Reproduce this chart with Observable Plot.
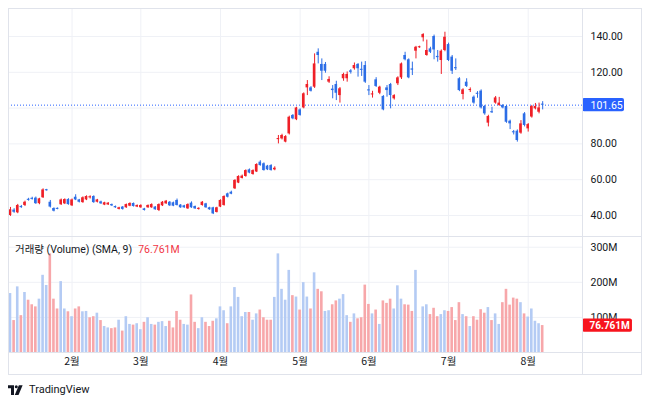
<!DOCTYPE html>
<html><head><meta charset="utf-8">
<script src="https://cdn.jsdelivr.net/npm/d3@7"></script>
<script src="https://cdn.jsdelivr.net/npm/@observablehq/plot@0.6"></script>
<style>
body{margin:0;background:#fff;}
#wrap{position:relative;width:650px;height:404px;overflow:hidden;font-family:Roboto,"Noto Sans CJK KR",sans-serif;color:#131722;}
.ln{position:absolute;background:#e0e3eb;}
.pl{position:absolute;left:0;}
#legend{position:absolute;left:15px;top:243px;font-size:10.5px;line-height:13px;white-space:nowrap;font-family:Roboto,"Noto Sans CJK KR",sans-serif;color:#131722;}
#legend span{color:#f23645;margin-left:6px;}
#logo{position:absolute;left:8px;top:384px;display:flex;align-items:center;gap:6px;font-size:11px;line-height:12px;color:#131722;font-family:Roboto,sans-serif;}
</style></head>
<body><div id="wrap">
<div id="price" class="pl" style="top:0"></div>
<div id="vol" class="pl" style="top:237px"></div>
<div class="ln" style="left:8px;top:8px;width:634px;height:1px"></div>
<div class="ln" style="left:8px;top:374px;width:634px;height:1px"></div>
<div class="ln" style="left:8px;top:8px;width:1px;height:367px"></div>
<div class="ln" style="left:641px;top:8px;width:1px;height:367px"></div>
<div class="ln" style="left:8px;top:236px;width:634px;height:1px"></div>
<div class="ln" style="left:8px;top:352px;width:634px;height:1px"></div>
<div class="ln" style="left:582px;top:8px;width:1px;height:367px"></div>
<div id="legend"></div>
<div id="logo"><svg width="15" height="10" viewBox="0 0 20 13"><path d="M0 0H8V13H4V4H0Z" fill="#131722"/><circle cx="11" cy="2" r="2" fill="#131722"/><path d="M14.5 0H19.5L14 13H9Z" fill="#131722"/></svg><span>TradingView</span></div>
</div>
<script>
// OHLC (daily candles)
const O = [
40.0,43.0,41.5,45.0,45.6,49.0,49.6,49.7,46.6,49.9,
54.2,47.4,43.9,43.9,46.0,46.5,48.9,45.4,50.2,48.7,
47.2,48.7,50.0,50.6,47.4,47.6,45.8,45.9,46.1,45.0,
43.4,44.7,44.3,45.2,46.7,44.7,44.3,43.7,44.3,44.3,
44.7,42.8,45.4,46.5,47.4,47.1,48.4,45.8,45.4,43.7,
46.9,45.0,43.4,45.6,46.5,44.3,44.3,41.7,44.7,45.6,
52.1,53.0,54.9,58.1,60.7,61.8,65.5,62.9,64.3,69.8,
68.9,67.6,67.9,65.5,82.5,82.8,81.0,85.6,95.9,93.5,
99.0,100.1,111.3,111.3,111.7,131.2,124.4,124.4,114.5,110.6,
113.2,107.0,116.4,116.4,120.8,122.0,124.4,121.6,123.8,110.2,
107.4,115.8,108.3,106.5,111.3,113.2,105.2,113.6,116.9,129.4,
127.0,121.9,131.8,133.8,139.3,129.4,133.1,140.0,128.9,126.6,
132.2,135.5,128.5,122.6,116.4,107.6,114.5,109.8,106.1,108.2,
109.5,100.9,91.6,97.9,102.8,101.5,101.5,100.9,92.7,86.8,
87.1,86.0,96.8,88.4,95.0,99.6,97.7,102.2];
const H = [
44.5,43.8,46.2,45.6,48.0,49.6,50.2,50.3,49.6,54.9,
54.6,48.4,44.3,44.2,49.2,49.3,49.4,49.2,51.6,49.0,
50.4,51.0,51.0,51.0,49.0,48.0,47.4,47.2,46.4,45.3,
44.6,45.0,46.4,47.1,47.0,45.9,46.0,44.0,45.9,46.5,
45.0,46.5,47.8,48.4,47.8,47.5,49.2,46.1,45.7,46.5,
47.6,45.3,44.3,47.8,46.8,44.6,44.6,44.6,48.8,51.0,
52.5,53.6,60.0,62.2,62.6,65.5,66.0,65.5,68.9,70.6,
69.4,68.0,68.4,67.2,84.7,85.4,84.6,95.5,96.4,100.5,
99.6,108.5,115.4,112.0,130.3,133.1,127.5,125.5,117.5,112.6,
115.0,111.5,119.5,120.2,121.5,125.2,124.9,125.7,126.0,112.6,
109.4,117.0,112.2,107.0,112.6,113.8,107.5,117.5,125.2,131.2,
127.5,125.7,134.5,134.6,141.6,138.0,134.0,140.8,132.2,132.5,
142.4,136.3,129.4,127.5,117.0,110.8,116.4,111.3,106.8,109.2,
110.2,101.5,96.0,100.5,106.5,106.0,102.0,101.5,93.3,87.5,
87.8,93.0,97.5,91.4,101.5,102.6,102.8,103.6];
const L = [
39.5,41.2,41.0,44.0,45.0,48.0,48.6,46.2,46.0,49.5,
53.6,44.2,42.0,43.2,45.6,46.1,45.7,45.0,48.3,47.0,
46.8,48.3,49.2,46.8,47.0,46.2,45.5,45.6,45.0,44.0,
43.1,43.0,44.0,44.9,44.7,44.4,44.0,42.5,44.0,44.0,
42.9,42.2,45.0,46.2,45.0,44.9,45.3,44.0,44.0,43.4,
44.0,43.4,43.0,45.2,44.0,42.9,40.5,41.4,44.4,45.2,
49.8,51.6,54.5,57.8,60.4,61.4,63.3,62.5,64.0,67.5,
64.8,65.1,64.8,65.0,80.0,82.2,80.6,85.0,93.5,93.0,
95.5,99.6,107.0,109.0,111.0,124.7,115.4,119.5,113.8,105.2,
104.2,102.8,115.0,114.5,119.0,121.2,117.3,117.7,113.8,107.0,
105.6,111.5,107.5,98.5,106.1,99.6,104.5,112.6,116.0,126.4,
116.4,118.2,127.5,133.4,137.0,129.0,130.5,127.0,125.7,118.8,
131.5,126.0,118.8,121.0,109.2,104.6,111.5,108.7,102.2,105.5,
99.5,96.0,89.5,97.0,102.2,101.0,99.6,91.5,88.0,85.0,
81.0,85.4,89.5,86.6,94.4,99.0,96.8,99.0];
const C = [
43.2,41.8,45.6,44.4,47.4,48.5,49.0,46.6,49.3,54.3,
54.0,44.7,42.4,43.5,48.7,48.9,46.1,48.7,48.7,47.4,
49.9,50.6,50.3,47.2,48.7,46.5,47.1,46.9,45.4,44.3,
44.3,43.4,46.1,46.7,45.0,45.6,45.6,42.8,45.6,46.1,
43.2,46.1,47.4,48.0,45.4,45.2,45.6,44.3,44.3,46.1,
44.3,43.7,44.0,47.4,44.3,43.2,40.9,44.3,48.4,50.6,
50.2,51.9,59.6,61.8,62.0,65.1,63.7,65.1,68.5,67.9,
65.1,65.5,65.1,66.4,82.9,84.7,84.1,94.9,94.0,100.1,
95.9,108.0,113.2,109.4,124.7,129.4,120.6,120.6,116.0,109.8,
108.3,110.8,118.8,118.8,120.0,123.8,122.0,121.2,114.5,109.6,
107.9,112.1,111.7,99.0,109.8,107.0,107.0,116.9,124.7,127.0,
116.9,121.2,134.0,134.2,141.1,132.2,131.2,132.5,128.2,131.8,
139.6,126.6,120.6,122.0,109.8,110.2,112.1,110.4,102.8,107.8,
100.1,96.8,95.3,97.5,105.7,102.8,100.1,92.1,91.2,86.2,
81.9,91.2,90.3,90.8,100.9,100.9,100.1,101.65];
// volume in millions and its colour direction (r = up, b = down)
const V = [
168,91,187,105,171,149,136,130,152,220,
191,281,152,124,202,124,116,102,124,130,
116,117,99,102,112,91,74,70,68,70,
92,61,102,80,78,82,65,86,99,80,
78,86,88,74,89,70,117,92,80,78,
164,86,68,99,86,74,89,96,130,119,
82,130,185,157,102,114,114,92,110,121,
99,92,92,157,281,180,149,234,162,158,
121,199,158,124,227,180,173,117,119,136,
147,152,165,105,86,110,96,99,192,137,
110,121,80,147,140,152,124,190,152,136,
135,117,234,2,130,136,108,126,102,108,
119,117,128,91,142,108,102,74,102,92,
122,112,128,91,110,80,142,180,135,155,
152,142,110,101,124,89,82,76.761];
const VD = ("brbrbrrrbb"+"brrrbbrbrr"+"bbrrbrbbrr"+"brbbrbbrbb"+"rbbbrrrrbb"+
  "rrbbrrrbbb"+"rbbbbbrbbr"+"rrrbbbbbrb"+"rbbrbrrbbr"+"rbbbrbrrrr"+
  "brbrrrbbbr"+"rrbbbbrrrb"+"brrrrbrbrr"+"rrbrbbrrrr"+"rbrbbbbr").split("");
const monthIdx = [17, 36, 58, 80, 99, 121, 143];
const monthLabels = ["2월","3월","4월","5월","6월","7월","8월"];
const priceTicks = [40, 60, 80, 100, 120, 140];
const volTicks = [100, 200, 300];
const volName = "거래량 (Volume) (SMA, 9)";

const UP = "#ef1f27", DN = "#2c6de6", VUP = "#f7a7aa", VDN = "#b4cbf4";
const GRID = "#eff1f6";
const font = 'Roboto,"Noto Sans CJK KR",sans-serif';

const candles = d3.range(C.length).map(i => {
  const up = C[i] >= O[i];
  let lo = Math.min(O[i], C[i]), hi = Math.max(O[i], C[i]);
  if (hi - lo < 0.6) { const m = (hi + lo) / 2; lo = m - 0.3; hi = m + 0.3; }
  return {i, h: H[i], l: L[i], lo, hi, col: up ? UP : DN};
});
const vols = V.map((v, i) => ({i, v, col: VD[i] === "r" ? VUP : VDN}));
const last = C[C.length - 1];
const lastVol = V[V.length - 1];
const xDomain = [-0.55, 158];
const half = 0.36;

const price = Plot.plot({
  width: 650, height: 237, marginLeft: 8, marginRight: 68, marginTop: 9, marginBottom: 0,
  style: {fontFamily: font, background: "transparent", overflow: "visible"},
  x: {domain: xDomain, axis: null},
  y: {domain: [27.7, 155.1], axis: null},
  marks: [
    Plot.gridX(monthIdx, {stroke: GRID, strokeOpacity: 1}),
    Plot.gridY(priceTicks, {stroke: GRID, strokeOpacity: 1}),
    Plot.ruleY([last], {stroke: "#2962ff", strokeDasharray: "1,2", strokeWidth: 1}),
    Plot.ruleX(candles, {x: "i", y1: "l", y2: "h", stroke: "col", strokeWidth: 1}),
    Plot.rect(candles, {x1: d => d.i - half, x2: d => d.i + half, y1: "lo", y2: "hi", fill: "col"}),
    Plot.axisY(priceTicks.filter(t => Math.abs(t - last) > 5), {anchor: "right", label: null, tickSize: 0, tickPadding: 8,
      tickFormat: d => d.toFixed(2), fontSize: 10.5, fill: "#131722"}),
    Plot.rect([last], {x1: xDomain[1], x2: xDomain[1] + 11.6, y1: d => d - 3.7, y2: d => d + 3.7, fill: "#2962ff", rx: 2}),
    Plot.text([last], {x: xDomain[1], y: d => d, text: d => d.toFixed(2), dx: 8, textAnchor: "start", fill: "white", fontSize: 10.5})
  ]
});
document.getElementById("price").appendChild(price);

const volume = Plot.plot({
  width: 650, height: 137, marginLeft: 8, marginRight: 68, marginTop: 0, marginBottom: 22,
  style: {fontFamily: font, background: "transparent", overflow: "visible"},
  x: {domain: xDomain, axis: null},
  y: {domain: [0, 327.7], axis: null},
  marks: [
    Plot.gridX(monthIdx, {stroke: GRID, strokeOpacity: 1}),
    Plot.gridY(volTicks, {stroke: GRID, strokeOpacity: 1}),
    Plot.rectY(vols, {x1: d => d.i - half, x2: d => d.i + half, y: "v", fill: "col"}),
    Plot.axisX(monthIdx, {anchor: "bottom", label: null, tickSize: 0, tickPadding: 5,
      tickFormat: d => monthLabels[monthIdx.indexOf(d)], fontSize: 10.5, fill: "#131722",
      fontFamily: '"Noto Sans CJK KR",sans-serif'}),
    Plot.axisY(volTicks, {anchor: "right", label: null, tickSize: 0, tickPadding: 8, tickFormat: d => d + "M", fontSize: 10.5, fill: "#131722"}),
    Plot.rect([lastVol], {x1: xDomain[1], x2: xDomain[1] + 13.8, y1: d => d - 19, y2: d => d + 19, fill: "#f7141e", rx: 2}),
    Plot.text([lastVol], {x: xDomain[1], y: d => d, text: d => d.toFixed(3) + "M", dx: 7, textAnchor: "start", fill: "white", fontSize: 10, fontWeight: "bold"})
  ]
});
document.getElementById("vol").appendChild(volume);

const lg = document.getElementById("legend");
lg.textContent = volName;
const sp = document.createElement("span");
sp.textContent = lastVol.toFixed(3) + "M";
lg.appendChild(sp);
</script>
</body></html>
